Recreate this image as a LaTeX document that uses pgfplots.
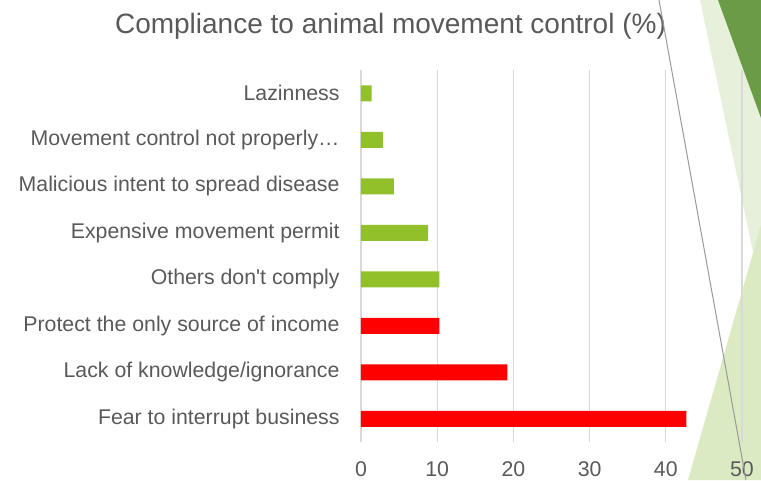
\documentclass[border=0pt]{standalone}
\usepackage{fontspec}
\setmainfont{Liberation Sans}
\usepackage{pgfplots}
\pgfplotsset{compat=1.18}

\definecolor{txtgray}{HTML}{595959}
\definecolor{gridgray}{HTML}{D9D9D9}
\definecolor{barg}{HTML}{92C02A}
\definecolor{barr}{HTML}{FF0000}
\definecolor{darkg}{HTML}{6B9B47}
\definecolor{paleg}{HTML}{E7F0DA}
\definecolor{lightg}{HTML}{DCEAC4}

\begin{document}
\begin{tikzpicture}[x=1pt,y=1pt]
\useasboundingbox (0,0) rectangle (761,480);
% slide decoration on the right
\fill[paleg] (700,480) -- (761,480) -- (761,190) -- cycle;
\fill[darkg] (718,480) -- (761,480) -- (761,362) -- cycle;
\fill[lightg] (688,0) -- (761,0) -- (761,255) -- cycle;

\node[anchor=base, text=txtgray, font=\fontsize{28}{33}\selectfont]
  at (390.5,446) {Compliance to animal movement control (\%)};

\begin{axis}[
  at={(361pt,38pt)}, anchor=south west,
  scale only axis, width=381pt, height=372pt,
  xbar, bar width=16pt,
  xmin=0, xmax=50, ymin=-0.5, ymax=7.5,
  xtick={0,10,...,50},
  ytick={0,...,7},
  yticklabels={Fear to interrupt business, Lack of knowledge/ignorance,
    Protect the only source of income, Others don\textquotesingle t comply,
    Expensive movement permit, Malicious intent to spread disease,
    Movement control not properly…, Lazinness},
  xmajorgrids, grid style={gridgray, line width=1.3pt},
  axis line style={draw=none}, tick style={draw=none},
  /pgf/number format/assume math mode=true,
  tick label style={text=txtgray, font=\fontsize{21.3}{25}\selectfont, inner sep=0pt},
  xticklabel style={anchor=north, yshift=-19pt},
  yticklabel style={anchor=east, xshift=-17pt},
  clip=false,
]
\addplot[draw=none, fill=barg, bar shift=0pt] coordinates
  {(1.4,7) (2.9,6) (4.3,5) (8.8,4) (10.3,3)};
\addplot[draw=none, fill=barr, bar shift=0pt] coordinates
  {(10.3,2) (19.2,1) (42.7,0)};
\end{axis}

\draw[gray!80, line width=1pt] (659,480) -- (746,0);
\end{tikzpicture}
\end{document}
